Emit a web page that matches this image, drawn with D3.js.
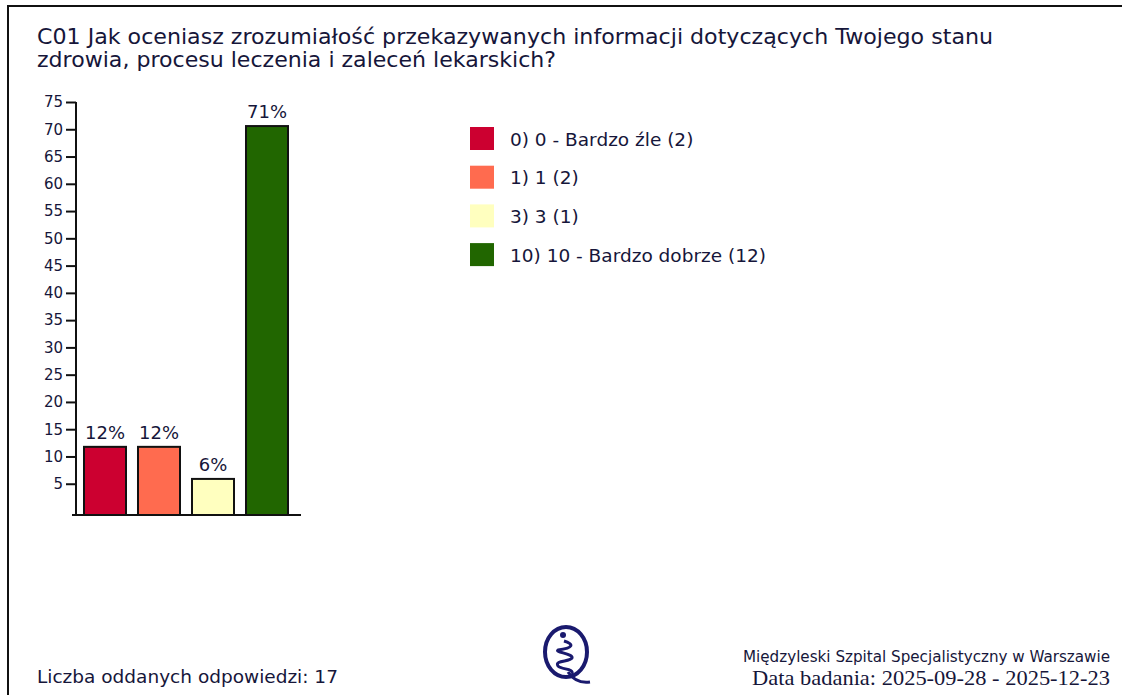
<!DOCTYPE html>
<html>
<head>
<meta charset="utf-8">
<script src="https://cdn.jsdelivr.net/npm/d3@7"></script>
<style>
  body { margin: 0; background: #fff; }
  text { font-family: "DejaVu Sans", sans-serif; fill: #16163a; }
</style>
</head>
<body>
<script>
var WIDTH = 1122, HEIGHT = 695;

// chart data
var titleLines = ["C01 Jak oceniasz zrozumiałość przekazywanych informacji dotyczących Twojego stanu",
                  "zdrowia, procesu leczenia i zaleceń lekarskich?"];
var categories = ["0) 0 - Bardzo źle", "1) 1", "3) 3", "10) 10 - Bardzo dobrze"];
var counts = [2, 2, 1, 12];
var colors = ["#cc0030", "#ff6b4f", "#ffffbf", "#216600"];
var yTicks = [5, 10, 15, 20, 25, 30, 35, 40, 45, 50, 55, 60, 65, 70, 75];
var total = d3.sum(counts);

var svg = d3.select("body").append("svg")
    .attr("width", WIDTH)
    .attr("height", HEIGHT);

// frame (top + left only)
svg.append("path")
    .attr("d", "M8,695 L8,6 L1122,6")
    .attr("fill", "none")
    .attr("stroke", "#111")
    .attr("stroke-width", 2);

// title
svg.append("g").selectAll("text").data(titleLines).enter()
    .append("text")
    .attr("x", 37)
    .attr("y", function(d, i) { return 44 + i * 23; })
    .style("font-size", "21px")
    .attr("textLength", function(d, i) { return i == 0 ? 956 : 519; })
    .attr("lengthAdjust", "spacingAndGlyphs")
    .text(function(d) { return d; });

var _yScale = d3.scaleLinear().domain([0, 75]).range([511, 102]);
var _xScale = d3.scaleBand().domain(categories)
    .range([78, 294]).paddingInner(0.2222).paddingOuter(0.1111);

var yAxis = svg.append("g")
    .attr("transform", "translate(76,0)")
    .call(d3.axisLeft(_yScale).tickValues(yTicks).tickSize(10).tickSizeOuter(0).tickPadding(3));
yAxis.select(".domain").attr("stroke", "#111").attr("stroke-width", 2)
    .attr("d", "M0,102V515");
yAxis.selectAll(".tick line").attr("stroke", "#111").attr("stroke-width", 2);
yAxis.selectAll(".tick text").style("font-size", "15px").attr("fill", "#16163a").attr("font-family", "DejaVu Sans");

// x baseline
svg.append("line")
    .attr("x1", 72).attr("x2", 301)
    .attr("y1", 515).attr("y2", 515)
    .attr("stroke", "#111").attr("stroke-width", 2);

var bars = svg.append("g").classed("bars", true);
bars.selectAll("rect").data(categories).enter()
    .append("rect")
    .attr("x", function(d) { return _xScale(d); })
    .attr("width", _xScale.bandwidth())
    .attr("y", function(d, i) { return _yScale(counts[i] / total * 100); })
    .attr("height", function(d, i) { return 515 - _yScale(counts[i] / total * 100); })
    .attr("fill", function(d, i) { return colors[i]; })
    .attr("stroke", "#111")
    .attr("stroke-width", 2);

bars.selectAll("text").data(categories).enter()
    .append("text")
    .attr("x", function(d) { return _xScale(d) + _xScale.bandwidth() / 2; })
    .attr("y", function(d, i) { return _yScale(counts[i] / total * 100) - 8; })
    .attr("text-anchor", "middle")
    .style("font-size", "18px")
    .text(function(d, i) { return Math.round(counts[i] / total * 100) + "%"; });

// legend
var legend = svg.append("g").selectAll("g").data(categories).enter()
    .append("g")
    .attr("transform", function(d, i) { return "translate(470," + (127 + i * 38.7) + ")"; });
legend.append("rect")
    .attr("width", 24).attr("height", 23)
    .attr("fill", function(d, i) { return colors[i]; });
legend.append("text")
    .attr("x", 40).attr("y", 18.5)
    .style("font-size", "18.5px")
    .text(function(d, i) { return d + " (" + counts[i] + ")"; });

// footer
svg.append("text")
    .attr("x", 37).attr("y", 683)
    .style("font-size", "18.5px")
    .text("Liczba oddanych odpowiedzi: " + total);

svg.append("text")
    .attr("x", 1110).attr("y", 662)
    .attr("text-anchor", "end")
    .attr("textLength", 367)
    .attr("lengthAdjust", "spacingAndGlyphs")
    .style("font-size", "15px")
    .style("font-family", "'DejaVu Sans Condensed', 'Liberation Sans Narrow', sans-serif")
    .text("Międzyleski Szpital Specjalistyczny w Warszawie");

svg.append("text")
    .attr("x", 1110).attr("y", 685)
    .attr("text-anchor", "end")
    .attr("textLength", 358)
    .attr("lengthAdjust", "spacingAndGlyphs")
    .style("font-size", "22px")
    .style("font-family", "'Liberation Serif', 'DejaVu Serif', serif")
    .text("Data badania: 2025-09-28 - 2025-12-23");

// logo
var logo = svg.append("g").attr("transform", "translate(566,652)");
logo.append("ellipse")
    .attr("rx", 21).attr("ry", 25)
    .attr("fill", "none")
    .attr("stroke", "#1a1a6e")
    .attr("stroke-width", 4);
logo.append("path")
    .attr("d", "M2,20 Q10,32 24,30")
    .attr("fill", "none").attr("stroke", "#1a1a6e").attr("stroke-width", 3);
logo.append("circle").attr("cx", -3).attr("cy", -17).attr("r", 3).attr("fill", "#1a1a6e");
logo.append("path")
    .attr("d", "M-2,-11 C8,-8 8,-4 -8,-2 C-12,0 8,2 6,6 C4,10 -12,8 -8,14 C-4,18 8,16 6,22")
    .attr("fill", "none").attr("stroke", "#1a1a6e").attr("stroke-width", 3);
</script>
</body>
</html>
